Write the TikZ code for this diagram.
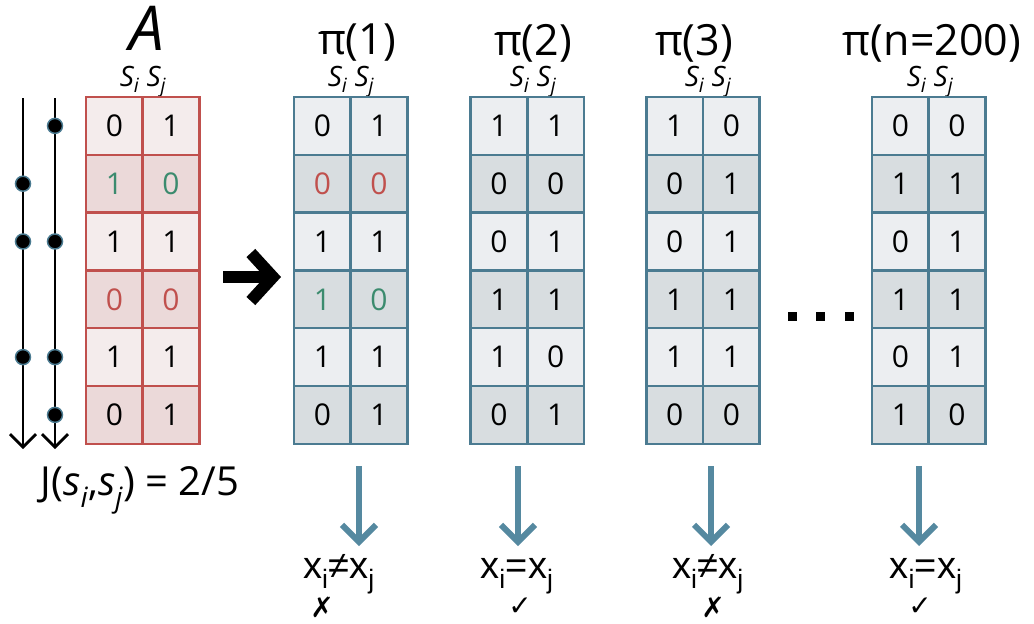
\documentclass[tikz,border=0pt]{standalone}
\usepackage{fontspec}
\setmainfont{Open Sans}
\newfontfamily\helv{Liberation Sans}
\newfontfamily\symb{DejaVu Sans}
\usetikzlibrary{arrows.meta}
\definecolor{redline}{HTML}{C0504D}
\definecolor{redlight}{HTML}{F4ECEC}
\definecolor{reddark}{HTML}{EBD9D9}
\definecolor{blueline}{HTML}{4B7B91}
\definecolor{bluelight}{HTML}{ECEEF1}
\definecolor{bluedark}{HTML}{D8DDE0}
\definecolor{sgreen}{HTML}{3B8B6E}
\definecolor{arrowblue}{HTML}{5589A0}
\tikzset{
  cell/.style={draw, line width=2.5pt, minimum width=56.7pt, minimum height=57.8pt,
    inner sep=0pt, font=\fontsize{30}{30}\selectfont},
  cellA/.style={cell, draw=redline},
  cellP/.style={cell, draw=blueline},
  title/.style={font=\fontsize{43}{43}\selectfont},
  head/.style={font=\itshape\fontsize{28}{28}\selectfont, inner sep=0pt},
  track/.style={line width=2.8pt, -{Straight Barb[length=13pt,width=26pt]}},
  hit/.style={circle, fill=black, draw=blueline, line width=1.5pt, minimum size=15pt, inner sep=0pt},
  bluearrow/.style={arrowblue, line width=6pt, -{Straight Barb[length=17pt,width=34pt]}},
  result/.style={font=\helv\fontsize{38}{38}\selectfont, inner sep=0pt, anchor=base},
  verdict/.style={font=\symb\fontsize{28}{28}\selectfont, inner sep=0pt}
}
\begin{document}
\begin{tikzpicture}[x=1pt,y=-1pt]
  \useasboundingbox (0,0) rectangle (1034,624);
  \node[font=\itshape\fontsize{62}{62}\selectfont, inner sep=0pt] (tA) at (147,28) {A};
  \node[title] (t1) at (357,43) {π(1)};
  \node[title] (t2) at (533,43) {π(2)};
  \node[title] (t3) at (694,43) {π(3)};
  \node[title] (tn) at (932,43) {π(n=200)};
  \node[head] (hA) at (143,82) {S\textsubscript{i} S\textsubscript{j}};
  \node[head] (h1) at (351,82) {S\textsubscript{i} S\textsubscript{j}};
  \node[head] (h2) at (533,82) {S\textsubscript{i} S\textsubscript{j}};
  \node[head] (h3) at (708,82) {S\textsubscript{i} S\textsubscript{j}};
  \node[head] (hn) at (930,82) {S\textsubscript{i} S\textsubscript{j}};
  \foreach \r/\a/\b/\c/\f in {1/0/1/black/redlight, 2/1/0/sgreen/reddark,
      3/1/1/black/redlight, 4/0/0/redline/reddark, 5/1/1/black/redlight, 6/0/1/black/reddark}{
    \node[cellA, fill=\f, text=\c] (A-\r-1) at (114.35,68.1+57.8*\r) {\a};
    \node[cellA, fill=\f, text=\c] (A-\r-2) at (171.05,68.1+57.8*\r) {\b};
  }
  \foreach \r/\a/\b/\c in {1/0/1/black, 2/0/0/redline, 3/1/1/black, 4/1/0/sgreen, 5/1/1/black, 6/0/1/black}{
    \ifodd\r \def\f{bluelight}\else\def\f{bluedark}\fi
    \node[cellP, fill=\f, text=\c] (P1-\r-1) at (322.35,68.1+57.8*\r) {\a};
    \node[cellP, fill=\f, text=\c] (P1-\r-2) at (379.05,68.1+57.8*\r) {\b};
  }
  \foreach \r/\a/\b in {1/1/1, 2/0/0, 3/0/1, 4/1/1, 5/1/0, 6/0/1}{
    \ifodd\r \def\f{bluelight}\else\def\f{bluedark}\fi
    \node[cellP, fill=\f] (P2-\r-1) at (498.95,68.1+57.8*\r) {\a};
    \node[cellP, fill=\f] (P2-\r-2) at (555.65,68.1+57.8*\r) {\b};
  }
  \foreach \r/\a/\b in {1/1/0, 2/0/1, 3/0/1, 4/1/1, 5/1/1, 6/0/0}{
    \ifodd\r \def\f{bluelight}\else\def\f{bluedark}\fi
    \node[cellP, fill=\f] (P3-\r-1) at (674.65,68.1+57.8*\r) {\a};
    \node[cellP, fill=\f] (P3-\r-2) at (731.35,68.1+57.8*\r) {\b};
  }
  \foreach \r/\a/\b in {1/0/0, 2/1/1, 3/0/1, 4/1/1, 5/0/1, 6/1/0}{
    \ifodd\r \def\f{bluelight}\else\def\f{bluedark}\fi
    \node[cellP, fill=\f] (Pn-\r-1) at (900.35,68.1+57.8*\r) {\a};
    \node[cellP, fill=\f] (Pn-\r-2) at (957.05,68.1+57.8*\r) {\b};
  }
  \coordinate (Li-s) at (23,98);
  \coordinate (Li-e) at (23,449);
  \coordinate (Lj-s) at (55,98);
  \coordinate (Lj-e) at (55,449);
  \draw[track] (Li-s) -- (Li-e);
  \draw[track] (Lj-s) -- (Lj-e);
  \foreach \r in {2,3,5}
    \node[hit] (hi-\r) at (23,68.1+57.8*\r) {};
  \foreach \r in {1,3,5,6}
    \node[hit] (hj-\r) at (55,68.1+57.8*\r) {};
  \node[font=\fontsize{40}{40}\selectfont] (jac) at (140,490)
    {J(\textit{s}\textsubscript{\textit{i}},\textit{s}\textsubscript{\textit{j}}) = 2/5};
  \coordinate (go-s) at (223,277);
  \coordinate (go-e) at (281,277);
  \draw[line width=12pt, -{Straight Barb[length=22pt,width=48pt]}] (go-s) -- (go-e);
  \foreach \i/\x in {1/792,2/820,3/849}
    \node[fill, minimum size=9pt, inner sep=0pt] (el-\i) at (\x,316) {};
  \node[result] (r1) at (339,578) {x\textsubscript{i}≠x\textsubscript{j}};
  \node[result] (r2) at (517,578) {x\textsubscript{i}=x\textsubscript{j}};
  \node[result] (r3) at (708,578) {x\textsubscript{i}≠x\textsubscript{j}};
  \node[result] (rn) at (926,578) {x\textsubscript{i}=x\textsubscript{j}};
  \node[verdict] (v1) at (322,607) {✗};
  \node[verdict] (v2) at (520,607) {✓};
  \node[verdict] (v3) at (713,607) {✗};
  \node[verdict] (vn) at (920,607) {✓};
  \coordinate (d1) at (359,466);
  \coordinate (d2) at (518,466);
  \coordinate (d3) at (711,466);
  \coordinate (dn) at (919,466);
  \draw[bluearrow] (d1) -- (d1 |- 0,546);
  \draw[bluearrow] (d2) -- (d2 |- 0,546);
  \draw[bluearrow] (d3) -- (d3 |- 0,546);
  \draw[bluearrow] (dn) -- (dn |- 0,546);
\end{tikzpicture}
\end{document}
